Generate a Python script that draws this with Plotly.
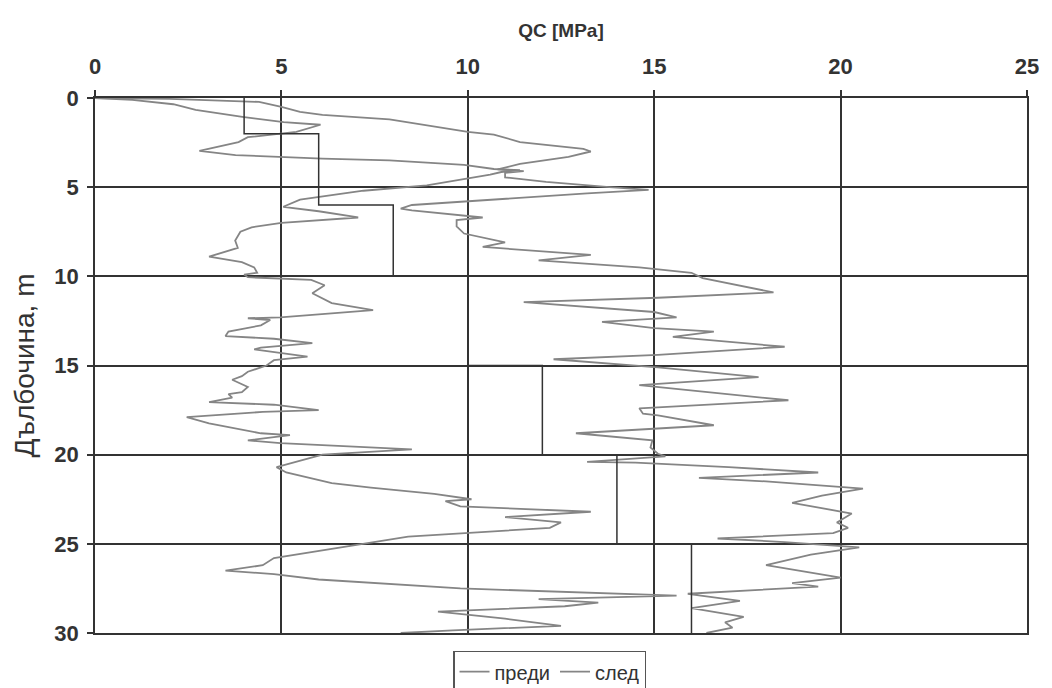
import plotly.graph_objects as go

# --- "преди" (before) CPT profile: qc [MPa] vs depth [m]
before_depth = [0, 0.1, 0.35, 0.67, 1.07, 1.35, 1.5, 1.9, 2.2, 2.47, 2.97, 3.2, 3.4, 3.5, 3.75, 3.98,
                4.05, 4.15, 4.3, 4.9, 5.2, 5.7, 6.1, 6.35, 6.7, 7.0, 7.25, 7.5, 8.0, 8.4, 8.9, 9.2,
                9.5, 9.8, 9.9, 10.05, 10.2, 10.5, 10.95, 11.5, 11.9, 12.1, 12.3, 12.35, 12.45, 12.75,
                13.1, 13.35, 13.5, 13.75, 14.0, 14.1, 14.5, 14.7, 15.0, 15.35, 15.6, 15.8, 16.2, 16.5,
                16.6, 16.8, 17.05, 17.2, 17.5, 17.6, 17.9, 18.25, 18.8, 18.9, 19.2, 19.35, 19.7, 20.0,
                20.7, 21.0, 21.35, 21.6, 21.85, 22.2, 22.5, 22.6, 22.9, 23.2, 23.5, 23.8, 24.1, 24.6,
                25.2, 25.8, 26.2, 26.5, 26.7, 27.0, 27.5, 27.7, 27.9, 28.1, 28.3, 28.5, 28.8, 29.2,
                29.6, 29.85, 30.0]
before_qc = [0, 1.0, 2.1, 2.7, 4.0, 5.06, 6.05, 5.4, 4.1, 3.85, 2.8, 3.77, 6.1, 7.9, 9.9, 10.7,
             11.4, 10.9, 10.6, 8.9, 7.2, 5.5, 5.05, 6.0, 7.06, 5.0, 4.2, 3.9, 3.76, 3.83, 3.06, 3.94,
             4.27, 4.35, 4.0, 4.1, 5.8, 6.16, 5.83, 6.35, 7.46, 6.1, 4.97, 4.1, 4.7, 4.45,
             3.58, 3.5, 4.8, 5.83, 4.45, 4.27, 5.7, 4.8, 4.6, 4.1, 3.94, 3.68, 4.1, 3.94,
             3.58, 3.68, 3.06, 4.8, 6.0, 4.5, 2.46, 3.06, 4.45, 5.23, 4.1, 4.97, 8.5, 6.1,
             4.87, 5.13, 5.83, 6.35, 7.4, 9.1, 10.1, 9.4, 9.8, 13.3, 11.0, 12.5, 12.2, 8.4,
             6.6, 4.8, 4.5, 3.5, 4.8, 6.0, 9.8, 12.5, 15.6, 11.9, 13.5, 12.6, 9.2, 11.0,
             12.5, 9.6, 8.2]

# --- "след" (after) CPT profile
after_depth = [0, 0.05, 0.22, 0.5, 0.78, 0.95, 1.2, 1.9, 2.05, 2.47, 2.85, 3.0, 3.3, 3.7, 3.9, 4.0,
               4.1, 4.2, 4.45, 4.7, 5.0, 5.15, 5.35, 5.7, 6.0, 6.2, 6.3, 6.7, 6.85, 7.2, 7.6, 8.1,
               8.35, 8.8, 9.1, 9.5, 9.8, 10.1, 10.9, 11.2, 11.45, 12.0, 12.3, 12.55, 12.9, 13.1,
               13.4, 13.95, 14.4, 14.65, 15.1, 15.65, 16.1, 16.95, 17.4, 17.7, 17.8, 18.35, 18.8,
               19.2, 19.6, 19.95, 20.1, 20.4, 20.45, 20.7, 21.0, 21.3, 21.5, 21.9, 22.3, 22.7, 23.3,
               23.8, 24.1, 24.4, 24.7, 24.9, 25.2, 25.6, 26.2, 26.9, 27.2, 27.4, 27.8, 28.2, 28.6,
               29.1, 29.4, 29.7, 30.0]
after_qc = [0, 2.0, 4.4, 5.0, 5.5, 6.1, 7.9, 10.0, 10.7, 11.4, 13.1, 13.3, 12.7, 11.4, 11.0, 10.8,
            11.5, 11.0, 11.0, 12.1, 13.8, 14.85, 13.2, 10.6, 8.5, 8.2, 8.5, 10.4, 9.7, 9.7, 9.9, 11.0,
            10.4, 13.3, 11.9, 14.6, 16.0, 16.3, 18.2, 15.1, 11.5, 15.0, 15.6, 13.6, 15.0, 16.6,
            15.5, 18.5, 15.1, 12.3, 15.1, 17.8, 14.6, 18.6, 14.6, 14.7, 15.1, 16.6, 12.9,
            14.95, 14.9, 15.1, 15.3, 13.2, 14.5, 17.0, 19.4, 16.2, 18.0, 20.6, 19.5, 18.7, 20.3,
            19.9, 20.2, 19.8, 16.7, 18.5, 20.5, 19.2, 18.0, 20.0, 18.7, 19.4, 15.9, 17.3, 16.0,
            17.4, 16.9, 17.1, 16.4]

# --- required qc step profile (layer tops and values)
req_depth = [0, 2, 6, 10, 15, 20, 25, 30]
req_qc = [4, 6, 8, 10, 12, 14, 16, 16]

x_ticks = [0, 5, 10, 15, 20, 25]
y_ticks = [0, 5, 10, 15, 20, 25, 30]

curve_color = "#858585"
grid_color = "#333333"

fig = go.Figure()
fig.add_trace(go.Scatter(x=before_qc, y=before_depth, mode="lines", name="преди",
                         line=dict(color=curve_color, width=1.8)))
fig.add_trace(go.Scatter(x=after_qc, y=after_depth, mode="lines", name="след",
                         line=dict(color=curve_color, width=1.8)))
fig.add_trace(go.Scatter(x=req_qc, y=req_depth, mode="lines", showlegend=False,
                         line=dict(color=grid_color, width=1.5, shape="vh")))

fig.update_layout(
    width=1036, height=680,
    margin=dict(l=87, r=17, t=90, b=55, autoexpand=False),
    paper_bgcolor="white", plot_bgcolor="white",
    font=dict(family="Liberation Sans", color="#333"),
    showlegend=True,
    legend=dict(orientation="h", xref="container", yref="container",
                x=0.523, xanchor="center", y=0.0544, yanchor="top",
                bordercolor="#555", borderwidth=1.2, font=dict(size=20, color="#333"),
                itemwidth=30, tracegroupgap=0),
)
fig.update_xaxes(
    side="top", range=[0, 25], tickvals=x_ticks, showgrid=True, gridcolor=grid_color, gridwidth=1.5,
    zeroline=False, showline=True, linecolor=grid_color, linewidth=1.5, mirror=True,
    ticks="outside", ticklen=6, tickcolor=grid_color, tickwidth=1.5, ticklabelstandoff=7,
    tickfont=dict(size=22, color="#333", weight="bold"),
    title=dict(text="QC [MPa]", font=dict(size=19, color="#333", weight="bold"), standoff=12),
)
fig.update_yaxes(
    range=[30, 0], tickvals=y_ticks, showgrid=True, gridcolor=grid_color, gridwidth=1.5,
    zeroline=False, showline=True, linecolor=grid_color, linewidth=1.5, mirror=True,
    ticks="outside", ticklen=6, tickcolor=grid_color, tickwidth=1.5, ticklabelstandoff=4,
    tickfont=dict(size=22, color="#333", weight="bold"),
    title=dict(text="Дълбочина, m", font=dict(size=28, color="#333"), standoff=12),
)

fig.write_html("out.html")
